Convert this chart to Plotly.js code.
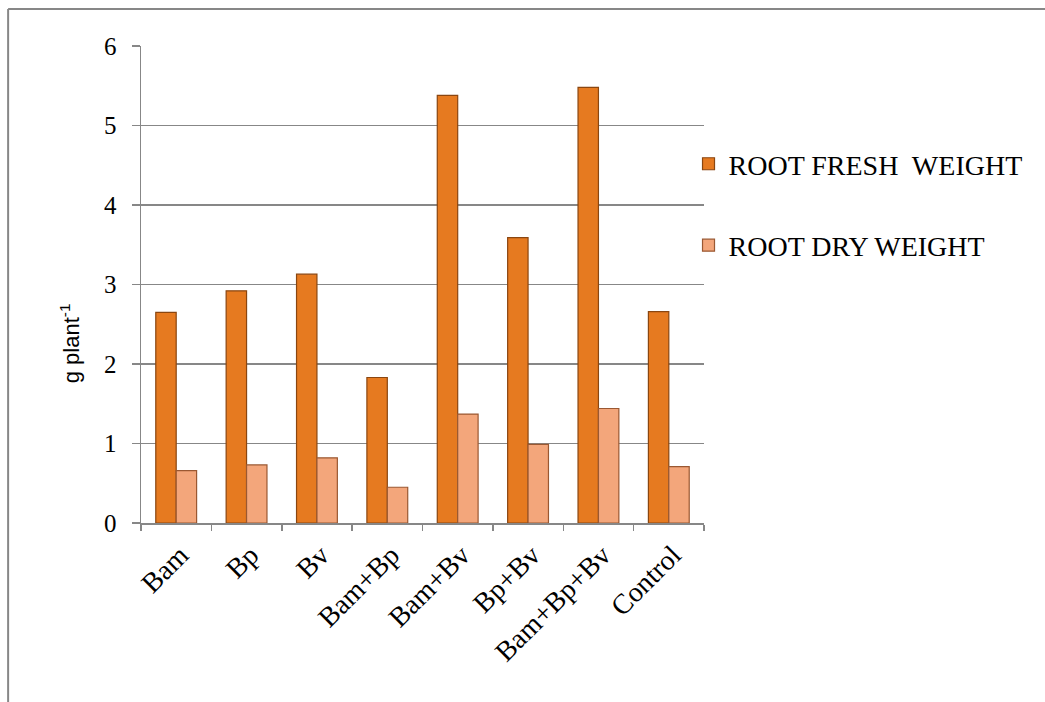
<!DOCTYPE html>
<html>
<head>
<meta charset="utf-8">
<script src="https://cdn.plot.ly/plotly-3.0.1.min.js"></script>
<style>
  html, body { margin: 0; padding: 0; background: #ffffff; }
  #chart { width: 1045px; height: 702px; }
</style>
</head>
<body>
<div id="chart"></div>
<script>
// Treatments on the x axis
const treatments = ["Bam", "Bp", "Bv", "Bam+Bp", "Bam+Bv", "Bp+Bv", "Bam+Bp+Bv", "Control"];

// Root weights, g per plant
const rootFreshWeight = [2.65, 2.92, 3.13, 1.83, 5.38, 3.59, 5.48, 2.66];
const rootDryWeight   = [0.66, 0.73, 0.82, 0.45, 1.37, 0.99, 1.44, 0.71];

const seriesNames = ["ROOT FRESH  WEIGHT", "ROOT DRY WEIGHT"];
const yTicks = [0, 1, 2, 3, 4, 5, 6];

const serif = "Liberation Serif, Times New Roman, serif";
const axisGrey = "#878787";

// plot area in pixels, used to place the legend, y title and outer frame
const L = 141, R = 704.5, T = 46, B = 522.7, W = 1045, H = 702;
const px = x => (x - L) / (R - L);
const py = y => (B - y) / (B - T);

const traces = [
  {
    type: "bar",
    name: seriesNames[0],
    x: treatments,
    y: rootFreshWeight,
    legendgroup: "fresh",
    marker: { color: "#E67A20", line: { color: "#8A4610", width: 1.2 } },
    hoverinfo: "x+y+name"
  },
  {
    type: "bar",
    name: seriesNames[1],
    x: treatments,
    y: rootDryWeight,
    legendgroup: "dry",
    marker: { color: "#F3A67B", line: { color: "#9A5832", width: 1.2 } },
    hoverinfo: "x+y+name"
  }
];

const layout = {
  width: W,
  height: H,
  margin: { l: L, r: W - R, t: T, b: H - B, pad: 0 },
  paper_bgcolor: "#ffffff",
  plot_bgcolor: "#ffffff",
  barmode: "group",
  bargap: 0.42,
  bargroupgap: 0,
  showlegend: true,
  legend: {
    x: px(689), xanchor: "left",
    y: py(139), yanchor: "top",
    traceorder: "grouped",
    tracegroupgap: 42,
    font: { family: serif, size: 28, color: "#000000" },
    bgcolor: "rgba(0,0,0,0)"
  },
  xaxis: {
    type: "category",
    showline: true,
    linecolor: axisGrey,
    linewidth: 1.5,
    ticks: "outside",
    tickson: "boundaries",
    ticklen: 6,
    tickcolor: axisGrey,
    tickwidth: 1.5,
    tickangle: -45,
    showgrid: false,
    tickfont: { family: serif, size: 28, color: "#000000" },
    ticklabelstandoff: 3,
    ticklabelshift: 4,
    automargin: false
  },
  yaxis: {
    range: [0, 6],
    tickvals: yTicks,
    ticktext: yTicks.map(String),
    showline: true,
    linecolor: axisGrey,
    linewidth: 1.5,
    ticks: "outside",
    ticklen: 8,
    tickcolor: axisGrey,
    tickwidth: 1.5,
    showgrid: true,
    gridcolor: axisGrey,
    gridwidth: 1.5,
    zeroline: false,
    tickfont: { family: serif, size: 25, color: "#000000" },
    ticklabelstandoff: 10,
    automargin: false
  },
  annotations: [
    {
      text: "g plant<sup>-1</sup>",
      xref: "paper", yref: "paper",
      x: px(70), y: py(343),
      xanchor: "center", yanchor: "middle",
      textangle: -90,
      showarrow: false,
      font: { family: "Liberation Sans, Arial, sans-serif", size: 22, color: "#000000" }
    }
  ],
  shapes: [
    // outer chart frame (left and top edges fall inside the page)
    {
      type: "line", xref: "paper", yref: "paper",
      x0: px(8), x1: px(8), y0: py(9), y1: py(712),
      line: { color: axisGrey, width: 2 }
    },
    {
      type: "line", xref: "paper", yref: "paper",
      x0: px(8), x1: px(1055), y0: py(9), y1: py(9),
      line: { color: axisGrey, width: 2 }
    }
  ]
};

Plotly.newPlot("chart", traces, layout, { displayModeBar: false, staticPlot: true });
</script>
</body>
</html>
